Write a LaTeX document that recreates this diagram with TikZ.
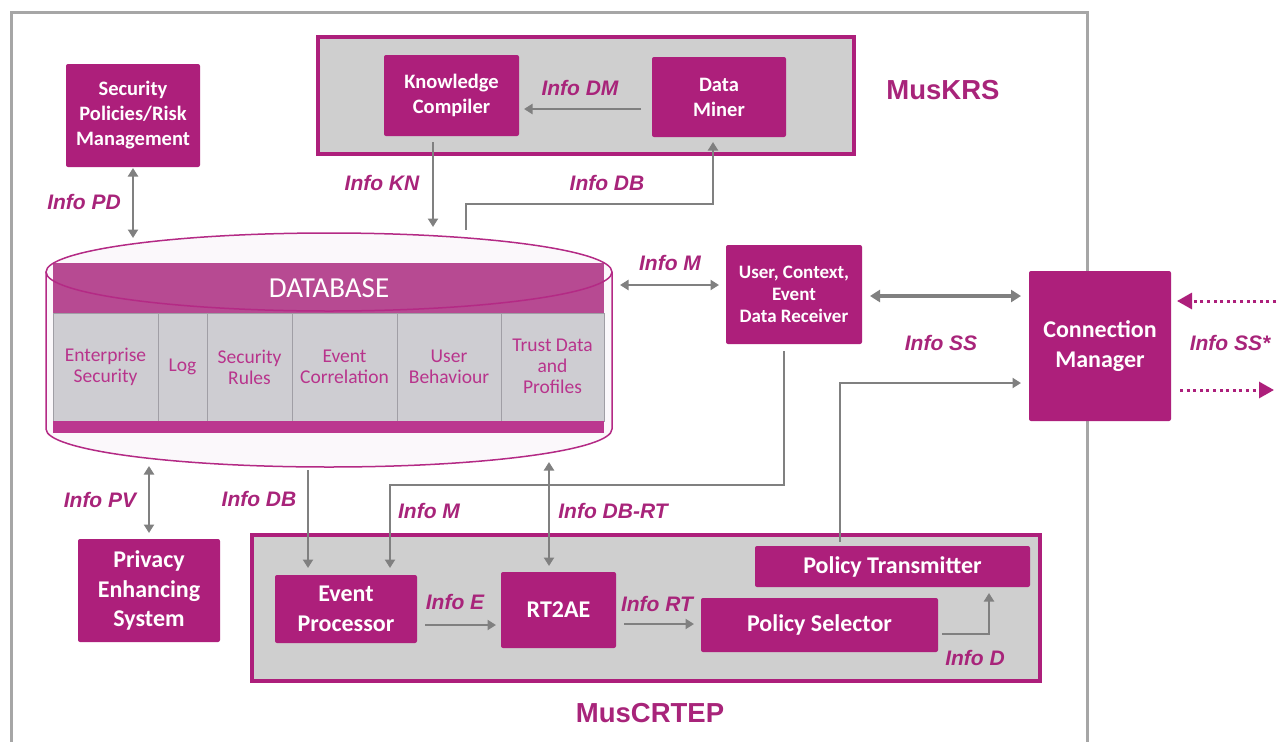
\documentclass[tikz,border=0pt]{standalone}
\usepackage{fontspec}
\setmainfont{Carlito}
\newfontfamily\arialfont{Liberation Sans}
\usetikzlibrary{arrows.meta,calc}

\definecolor{mag}{RGB}{173,31,123}
\definecolor{maglbl}{RGB}{168,36,122}
\definecolor{celltext}{RGB}{184,52,140}
\definecolor{arrgray}{RGB}{128,128,128}
\definecolor{framegray}{RGB}{166,166,166}
\definecolor{boxgray}{RGB}{207,207,207}
\definecolor{cellgray}{RGB}{206,205,210}
\definecolor{cellline}{RGB}{160,158,165}
\definecolor{bandtop}{RGB}{183,74,146}
\definecolor{bandbot}{RGB}{187,55,143}
\definecolor{cylfill}{RGB}{251,248,251}
\definecolor{cylline}{RGB}{180,42,133}

\begin{document}
\begin{tikzpicture}[x=1pt,y=-1pt,
  box/.style={fill=mag, text=white, rounded corners=2pt, inner sep=0pt, outer sep=0pt, align=center, anchor=north west},
  smallbox/.style={box, font=\bfseries\fontsize{20.5}{25}\selectfont},
  ucdbox/.style={box, font=\bfseries\fontsize{19}{22}\selectfont},
  bigbox/.style={box, font=\bfseries\fontsize{24}{29.5}\selectfont},
  container/.style={draw=mag, line width=4pt, fill=boxgray, inner sep=0pt, outer sep=0pt, anchor=north west},
  cell/.style={fill=cellgray, draw=cellline, line width=0.8pt},
  celltxt/.style={text=celltext, align=center, inner sep=0pt, font=\fontsize{19.5}{21}\selectfont},
  lbl/.style={text=maglbl, inner sep=0pt, font=\arialfont\bfseries\itshape\fontsize{21}{25}\selectfont},
  title/.style={text=maglbl, inner sep=0pt, font=\arialfont\bfseries\fontsize{27.5}{33}\selectfont},
  arr/.style={draw=arrgray, line width=2.8pt, -{Triangle[length=8.5pt,width=10pt]}},
  darr/.style={draw=arrgray, line width=2.8pt, {Triangle[length=8.5pt,width=10pt]}-{Triangle[length=8.5pt,width=10pt]}},
  dotarr/.style={draw=mag, line width=3pt, dash pattern=on 3pt off 3.6pt, -{Triangle[length=15pt,width=16pt]}}
]
% canvas
\fill[white] (0,0) rectangle (1286,742);
\useasboundingbox (0,0) rectangle (1286,742);

% outer frame (open at the bottom)
\draw[framegray, line width=3pt] (11,742) -- (11,12) -- (1087,12) -- (1087,742);

% subsystem containers
\node[container, minimum width=536pt, minimum height=117pt] (muskrs) at (318,37) {};
\node[container, minimum width=788pt, minimum height=146pt] (muscrtep) at (252,535) {};

% ---------- database cylinder ----------
\fill[cylfill] (329,272) ellipse [x radius=283pt, y radius=39pt];
\fill[cylfill] (46,272) rectangle (612,429);
\fill[cylfill] (329,429) ellipse [x radius=283pt, y radius=38pt];
\fill[bandtop] (53,263) rectangle (604,313);
\draw[cell] (53,313) rectangle (158,421);
\draw[cell] (158,313) rectangle (207,421);
\draw[cell] (207,313) rectangle (292,421);
\draw[cell] (292,313) rectangle (397,421);
\draw[cell] (397,313) rectangle (501,421);
\draw[cell] (501,313) rectangle (604,421);
\fill[bandbot] (53,421) rectangle (604,433);
\draw[cylline, line width=1.5pt] (46,272) -- (46,429)
  arc [start angle=180, end angle=360, x radius=283pt, y radius=38pt] -- (612,272);
\draw[cylline, line width=1.5pt] (329,272) ellipse [x radius=283pt, y radius=39pt];

\node[text=white, inner sep=0pt, font=\fontsize{29}{33}\selectfont] (dbtitle) at (329,288) {DATABASE};
\node[celltxt] (c1) at (105.5,367) {Enterprise\\Security};
\node[celltxt] (c2) at (182.5,367) {Log};
\node[celltxt] (c3) at (249.5,367) {Security\\Rules};
\node[celltxt] (c4) at (344.5,367) {Event\\Correlation};
\node[celltxt] (c5) at (449,367) {User\\Behaviour};
\node[celltxt] (c6) at (552.5,366) {Trust Data\\and\\Profiles};

% ports on the cylinder outline
\coordinate (dbPD) at (133,238);
\coordinate (dbKN) at (433,227);
\coordinate (dbDB) at (466,230);
\coordinate (dbM)  at (620,285);
\coordinate (dbPV) at (149,466);
\coordinate (dbEP) at (308,470);
\coordinate (dbRT) at (549,462);

% ---------- component boxes ----------
\node[smallbox, minimum width=134pt, minimum height=103pt] (secpol) at (66,64) {Security\\Policies/Risk\\Management};
\node[smallbox, minimum width=135pt, minimum height=81pt] (kc) at (384,55) {Knowledge\\Compiler};
\node[smallbox, minimum width=134pt, minimum height=80pt] (dm) at (652,57) {Data\\Miner};
\node[ucdbox, minimum width=136pt, minimum height=99pt] (ucd) at (726,245) {User, Context,\\Event\\Data Receiver};
\node[bigbox, minimum width=142pt, minimum height=150pt] (cm) at (1029,271) {Connection\\Manager};
\node[bigbox, minimum width=142pt, minimum height=103pt] (pes) at (78,539) {Privacy\\Enhancing\\System};
\node[bigbox, minimum width=142pt, minimum height=68pt] (ep) at (275,575) {Event\\Processor};
\node[bigbox, minimum width=115pt, minimum height=76pt] (rt2ae) at (501,572) {RT2AE};
\node[bigbox, minimum width=275pt, minimum height=41pt] (pt) at (755,546) {Policy Transmitter};
\node[bigbox, minimum width=237pt, minimum height=54pt] (ps) at (701,598) {Policy Selector};

% ---------- titles ----------
\node[title] (tkrs) at (943,90) {MusKRS};
\node[title] (tcrtep) at (650,713) {MusCRTEP};

% ---------- labels ----------
\node[lbl] (lDM) at (580,88) {Info DM};
\node[lbl] (lKN) at (382,183) {Info KN};
\node[lbl] (lDB1) at (607,183) {Info DB};
\node[lbl] (lPD) at (84,202) {Info PD};
\node[lbl] (lM1) at (670,263) {Info M};
\node[lbl] (lSS) at (941,343) {Info SS};
\node[lbl] (lSSs) at (1230,343) {Info SS*};
\node[lbl] (lPV) at (100,500) {Info PV};
\node[lbl] (lDB2) at (259,499) {Info DB};
\node[lbl] (lM2) at (429,511) {Info M};
\node[lbl] (lDBRT) at (613,511) {Info DB-RT};
\node[lbl] (lE) at (455,602) {Info E};
\node[lbl] (lRT) at (657,604) {Info RT};
\node[lbl] (lD) at (975,658) {Info D};

% ---------- connectors ----------
\draw[arr] ($(dm.west)+(-11,12)$) -- ($(kc.east)+(5,13.5)$);
\draw[arr] ($(kc.south)+(-18.5,6)$) -- (dbKN);
\draw[arr] (dbDB) |- ($(dm.south)+(-6,67)$) -- ($(dm.south)+(-6,5)$);
\draw[darr] ($(secpol.south)+(0,1)$) -- (dbPD);
\draw[darr] (dbM) -- ($(ucd.west)+(-7,-9.5)$);
\draw[draw=arrgray, line width=4pt, {Triangle[length=10pt,width=12pt]}-{Triangle[length=10pt,width=12pt]}]
  ($(ucd.east)+(8,1.5)$) -- ($(cm.west)+(-8,-50)$);
\draw[arr] ($(ucd.south)+(-10,7)$) |- ($(ep.north)+(44,-90)$) -- ($(ep.north)+(44,-7)$);
\draw[arr] ($(pt.north)+(-52.5,-4)$) |- ($(cm.west)+(-8,37)$);
\draw[arr] (dbEP) -- ($(ep.north)+(-38,-7)$);
\draw[darr] (dbRT) -- ($(rt2ae.north)+(-9.5,-6)$);
\draw[darr] (dbPV) -- ($(pes.north)+(0,-6)$);
\draw[arr] ($(ep.east)+(8,16)$) -- ($(rt2ae.west)+(-5,15)$);
\draw[arr] ($(rt2ae.east)+(8,14)$) -- ($(ps.west)+(-7,-1)$);
\draw[arr] ($(ps.east)+(4,9)$) -| ($(pt.south)+(96.5,6)$);

% external links of the connection manager
\coordinate (ssin) at (1276,301);
\coordinate (ssout) at (1274,390);
\draw[dotarr] (ssin) -- ($(cm.east)+(6,-45)$);
\draw[dotarr] ($(cm.east)+(9,44)$) -- (ssout);
\end{tikzpicture}
\end{document}
